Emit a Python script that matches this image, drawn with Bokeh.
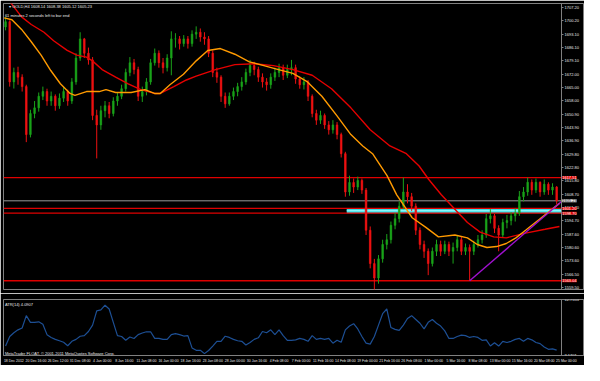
from bokeh.plotting import figure
from bokeh.layouts import column
from bokeh.models import (ColumnDataSource, FixedTicker, Label, Range1d,
                          NumeralTickFormatter)
from bokeh.embed import file_html
from bokeh.resources import INLINE

# ---------------- data (GOLD H4, each candle = 3 H4 bars) ----------------
x_labels = ["18 Dec 2012", "20 Dec 16:00", "26 Dec 12:00", "31 Dec 08:00",
            "4 Jan 00:00", "8 Jan 16:00", "11 Jan 08:00", "16 Jan 00:00",
            "18 Jan 16:00", "23 Jan 08:00", "28 Jan 00:00", "30 Jan 16:00",
            "4 Feb 08:00", "7 Feb 00:00", "11 Feb 16:00", "14 Feb 08:00",
            "19 Feb 00:00", "21 Feb 16:00", "26 Feb 08:00", "1 Mar 00:00",
            "5 Mar 16:00", "8 Mar 08:00", "13 Mar 00:00", "15 Mar 16:00",
            "20 Mar 08:00", "25 Mar 00:00"]
bars_per_label = 16
bars_per_candle = 3
last_bar = 403.5

first_open = 1697.0
closes = [1699.8, 1668.0, 1673.0, 1670.5, 1665.5, 1640.2, 1651.3, 1654.3, 1660.4, 1662.9,
          1657.9, 1660.4, 1655.4, 1659.4, 1662.9, 1657.9, 1668.0, 1680.6, 1690.7, 1683.1,
          1679.6, 1650.3, 1645.3, 1652.8, 1655.4, 1651.3, 1657.9, 1660.4, 1664.4, 1673.0,
          1678.1, 1674.5, 1660.4, 1662.9, 1668.0, 1678.1, 1683.1, 1678.1, 1675.5, 1680.6,
          1690.7, 1690.7, 1688.2, 1690.7, 1688.2, 1693.2, 1694.2, 1691.7, 1690.7, 1683.1,
          1673.0, 1670.5, 1660.4, 1656.4, 1660.4, 1662.9, 1665.5, 1668.0, 1673.0, 1676.6,
          1674.5, 1670.5, 1668.0, 1666.5, 1670.5, 1673.0, 1675.5, 1671.5, 1674.5, 1675.5,
          1669.5, 1666.5, 1668.0, 1660.4, 1651.3, 1647.8, 1650.3, 1645.3, 1642.7, 1645.3,
          1640.2, 1630.1, 1609.9, 1614.9, 1612.5, 1616.0, 1610.9, 1589.7, 1572.1, 1564.5,
          1574.6, 1582.2, 1584.7, 1592.3, 1595.8, 1602.4, 1609.9, 1607.4, 1602.4, 1589.7,
          1582.2, 1578.6, 1572.1, 1578.6, 1582.2, 1578.6, 1582.2, 1578.6, 1580.6, 1584.7,
          1578.6, 1580.6, 1578.6, 1582.2, 1584.7, 1587.2, 1595.8, 1597.3, 1590.7, 1587.2,
          1593.8, 1594.8, 1597.3, 1598.8, 1607.4, 1609.9, 1615.0, 1610.9, 1615.0, 1609.9,
          1614.0, 1610.9, 1612.5, 1605.23]
highs = [1702.3, 1700.5, 1675.5, 1676.0, 1672.0, 1666.5, 1653.3, 1657.9, 1662.4, 1665.5,
         1664.4, 1662.9, 1661.4, 1661.9, 1665.5, 1663.9, 1670.0, 1683.1, 1694.2, 1691.2,
         1686.1, 1681.1, 1653.3, 1655.4, 1657.9, 1657.4, 1659.9, 1662.4, 1666.5, 1675.0,
         1681.1, 1680.1, 1676.0, 1665.5, 1670.0, 1680.1, 1685.6, 1684.6, 1680.6, 1682.6,
         1694.7, 1693.7, 1692.2, 1692.7, 1692.2, 1695.2, 1697.3, 1696.2, 1694.2, 1692.2,
         1684.6, 1675.5, 1671.5, 1662.4, 1662.4, 1665.0, 1667.5, 1670.5, 1675.0, 1679.6,
         1678.6, 1676.0, 1672.5, 1670.0, 1672.5, 1675.5, 1677.6, 1677.1, 1677.1, 1679.6,
         1677.1, 1671.0, 1670.5, 1669.0, 1661.4, 1653.3, 1652.8, 1651.3, 1647.3, 1647.8,
         1646.8, 1641.2, 1631.1, 1618.5, 1617.0, 1618.0, 1617.0, 1612.0, 1591.7, 1574.6,
         1576.6, 1584.7, 1587.7, 1594.3, 1598.8, 1604.9, 1617.5, 1614.0, 1609.4, 1603.9,
         1591.2, 1584.2, 1580.1, 1580.6, 1584.7, 1584.2, 1584.2, 1583.7, 1583.2, 1587.2,
         1586.2, 1582.7, 1582.2, 1584.2, 1587.2, 1589.7, 1598.3, 1600.8, 1598.3, 1592.3,
         1595.8, 1597.8, 1599.3, 1601.3, 1610.4, 1612.5, 1617.5, 1616.5, 1617.0, 1615.5,
         1616.5, 1615.0, 1614.5, 1613.0]
lows = [1695.2, 1665.5, 1664.5, 1666.5, 1662.9, 1636.2, 1638.7, 1648.8, 1652.3, 1658.4,
        1655.4, 1655.4, 1652.8, 1653.8, 1657.4, 1655.4, 1656.4, 1666.5, 1679.1, 1680.6,
        1677.1, 1647.8, 1627.6, 1642.7, 1649.3, 1648.8, 1649.8, 1655.4, 1658.9, 1662.9,
        1671.0, 1672.0, 1657.9, 1657.4, 1660.9, 1666.5, 1676.6, 1675.5, 1672.5, 1673.5,
        1671.5, 1686.1, 1685.1, 1686.6, 1685.6, 1686.6, 1690.7, 1689.2, 1687.6, 1681.1,
        1670.5, 1667.5, 1657.4, 1654.3, 1655.4, 1658.4, 1660.4, 1663.4, 1666.5, 1671.0,
        1671.5, 1668.0, 1665.0, 1663.4, 1664.4, 1668.5, 1670.5, 1669.0, 1670.0, 1671.5,
        1667.0, 1664.4, 1664.0, 1657.9, 1649.3, 1645.3, 1645.8, 1643.2, 1640.2, 1640.7,
        1637.7, 1628.1, 1607.4, 1607.9, 1609.4, 1610.9, 1608.9, 1587.2, 1569.6, 1556.4,
        1561.5, 1572.6, 1579.6, 1582.7, 1590.2, 1593.8, 1600.8, 1603.9, 1599.8, 1587.2,
        1579.6, 1575.1, 1566.0, 1570.6, 1576.1, 1576.1, 1577.1, 1576.1, 1572.1, 1578.6,
        1576.6, 1576.6, 1563.0, 1576.6, 1580.6, 1582.7, 1585.7, 1593.3, 1588.2, 1578.6,
        1585.7, 1590.7, 1592.3, 1594.3, 1597.3, 1604.9, 1607.9, 1608.4, 1609.4, 1607.4,
        1608.4, 1608.4, 1608.4, 1603.4]
atr = [4.79, 6.42, 7.07, 7.56, 7.88, 9.99, 8.85, 8.85, 8.94, 8.53,
       6.74, 6.26, 5.93, 5.69, 5.44, 4.84, 5.60, 5.93, 6.47, 6.58,
       7.28, 8.37, 10.81, 10.97, 11.78, 11.13, 8.85, 6.58, 6.42, 5.77,
       6.34, 6.09, 6.74, 7.02, 7.23, 7.23, 6.09, 6.09, 5.93, 5.93,
       6.74, 6.91, 6.74, 6.50, 6.58, 4.47, 4.06, 4.06, 3.49, 4.03,
       4.79, 5.60, 5.60, 6.47, 6.26, 5.93, 5.69, 5.60, 4.96, 5.39,
       5.93, 6.20, 7.28, 7.07, 7.56, 6.74, 7.56, 6.58, 5.77, 5.77,
       5.85, 6.09, 5.93, 5.60, 6.58, 5.93, 6.09, 5.93, 6.09, 5.28,
       5.77, 5.44, 7.56, 8.21, 8.61, 7.72, 6.42, 5.28, 5.12, 6.42,
       8.37, 10.32, 11.13, 7.96, 7.64, 7.47, 8.37, 9.50, 9.99, 9.34,
       8.69, 7.72, 8.85, 9.34, 8.69, 8.21, 7.39, 6.09, 6.09, 6.42,
       6.66, 6.58, 6.26, 6.42, 6.26, 5.77, 5.85, 4.79, 5.36, 4.79,
       5.60, 5.39, 5.60, 5.93, 6.09, 5.60, 6.09, 5.85, 5.39, 5.20,
       4.63, 4.23, 4.31, 4.0907]

ma_fast_bar = [0, 5.6, 12.6, 19.6, 26.7, 33.7, 40.7, 47.7, 51.2, 59.6,
               68.8, 73.7, 80.7, 91.9, 101.8, 108.8, 113, 120, 129.8, 139,
               147.4, 156.5, 167, 177.5, 188, 198.6, 209, 219.6, 230, 240.7,
               251, 259.6, 266.7, 277.2, 284.2, 295.4, 305.3, 314.4, 326.3, 335.4,
               342.5, 349.5, 356.5, 363.5, 370.5, 377.5, 388, 395, 402]
ma_fast = [1701.8, 1700.8, 1695.7, 1689.2, 1682.1, 1674.0, 1667.0, 1661.9, 1660.9, 1662.9,
           1662.9, 1663.9, 1662.4, 1662.4, 1663.9, 1661.9, 1661.9, 1666.5, 1672.0, 1679.1,
           1684.6, 1685.6, 1682.6, 1678.6, 1676.6, 1674.5, 1672.5, 1668.0, 1660.4, 1650.3,
           1640.2, 1634.2, 1630.1, 1618.5, 1608.4, 1596.3, 1591.2, 1586.2, 1587.2, 1585.7,
           1582.2, 1580.6, 1581.1, 1582.7, 1585.7, 1589.7, 1595.8, 1599.8, 1603.9]
ma_slow_bar = [3.5, 12.6, 19.6, 28.8, 35.8, 45.6, 52.6, 59.6, 63.9, 70.9,
               80.7, 89.8, 98.9, 108.8, 113, 122.8, 131.9, 139, 153, 167,
               181, 195, 209, 223, 237, 251, 265, 279.3, 291.2, 300.4,
               307.4, 316.5, 326.3, 335.4, 344.6, 354.4, 363.5, 377.5, 391.6, 402]
ma_slow = [1710.9, 1702.3, 1698.3, 1694.2, 1689.7, 1684.6, 1682.1, 1681.1, 1679.1, 1674.5,
           1670.5, 1667.0, 1663.9, 1661.9, 1661.9, 1665.5, 1669.0, 1671.0, 1674.5, 1677.1,
           1677.6, 1676.6, 1674.5, 1671.5, 1664.4, 1654.3, 1642.7, 1634.2, 1630.1, 1623.6,
           1616.5, 1608.4, 1600.8, 1593.8, 1588.7, 1586.2, 1585.7, 1588.2, 1590.2, 1591.7]

trend_bar = [337, 403.5]
trend_price = [1563.0, 1604.9]

resistance = 1617.51
zone_top = 1601.20
zone_bottom = 1598.70
band_start_bar = 248
support = 1563.04
bid = 1605.23

price_ticks = [1707.20, 1700.20, 1693.10, 1686.10, 1679.10, 1672.00, 1665.00, 1658.00,
               1650.90, 1643.90, 1636.90, 1629.80, 1622.80, 1615.80, 1608.70, 1601.70,
               1594.70, 1587.60, 1580.60, 1573.60, 1566.50, 1559.50]
atr_ticks = [12.7553, 3.1701]

title_text = "\u25be GOLD,H4  1608.14 1608.38 1605.12 1605.23"
timer_text = "61 minutes 2 seconds left to bar end"
atr_text = "ATR(14) 4.0907"
copyright_text = "MetaTrader FLOAT, \u00a9 2001-2011 MetaQuotes Software Corp."

# ---------------- build ----------------
FONT = "Liberation Sans"
FS = "4px"
n = len(closes)
cx = [bars_per_candle * j + 1 for j in range(n)]
opens = [first_open] + closes[:-1]
up = dict(x=[], top=[], bottom=[], hi=[], lo=[])
dn = dict(x=[], top=[], bottom=[], hi=[], lo=[])
for x, o, c, h, l in zip(cx, opens, closes, highs, lows):
    d = up if c >= o else dn
    d["x"].append(x); d["top"].append(max(o, c)); d["bottom"].append(min(o, c))
    d["hi"].append(h); d["lo"].append(l)

W = 584
FRAME_LEFT = 3
CHART_W = 558                       # pixels used by the bars; the rest holds the price scale
x0 = -0.5
px_per_bar = CHART_W / (last_bar - x0)
xr = Range1d(x0, x0 + (W - FRAME_LEFT) / px_per_bar)
common = dict(width=W, output_backend="svg", toolbar_location=None,
              background_fill_color="black", border_fill_color="black",
              outline_line_color="#808080", min_border_left=FRAME_LEFT,
              min_border_right=0, y_axis_location="right", x_range=xr)

p = figure(height=293, y_range=Range1d(1558.43, 1709.37), x_axis_location=None,
           min_border_top=3, min_border_bottom=4, **common)
p2 = figure(height=72, y_range=Range1d(3.1701, 12.7553), min_border_top=6,
            min_border_bottom=9, **common)

for f in (p, p2):
    f.grid.visible = False
    for ax in f.axis:
        ax.axis_line_color = "#808080"
        ax.major_tick_line_color = "#808080"
        ax.minor_tick_line_color = None
        ax.major_tick_in = 0
        ax.major_tick_out = 2
        ax.major_label_standoff = 1
        ax.major_label_text_color = "#e8e8e8"
        ax.major_label_text_font = FONT
        ax.major_label_text_font_size = FS
    f.yaxis.fixed_location = last_bar

p.yaxis.ticker = FixedTicker(ticks=price_ticks)
p.yaxis.formatter = NumeralTickFormatter(format="0.00")
p2.yaxis.ticker = FixedTicker(ticks=atr_ticks)
p2.yaxis.formatter = NumeralTickFormatter(format="0.0000")

label_shift = 7
xt = [bars_per_label * k + label_shift for k in range(len(x_labels))]
p2.xaxis.ticker = FixedTicker(ticks=xt)
p2.xaxis.major_label_overrides = {t: s for t, s in zip(xt, x_labels)}
p2.xaxis.major_tick_line_color = None
p2.xaxis.major_label_text_font_size = "3.5px"

# horizontal levels
p.quad(left=band_start_bar, right=last_bar, bottom=zone_bottom, top=zone_top,
       fill_color="#33e0e6", line_color=None)
p.quad(left=band_start_bar, right=last_bar, bottom=zone_bottom + 1.0, top=zone_top - 1.0,
       fill_color="#a8fbff", line_color=None)
for lvl, lw in ((resistance, 1.2), (zone_top, 1.2), (zone_bottom, 1.2), (support, 1.4)):
    p.line([x0, last_bar], [lvl, lvl], line_color="#e00000", line_width=lw)
p.line([x0, last_bar], [bid, bid], line_color="#9a9a9a", line_width=1)

# candles
for d, col in ((up, "#1aa31a"), (dn, "#ee1111")):
    src = ColumnDataSource(d)
    p.segment(x0="x", y0="hi", x1="x", y1="lo", source=src, line_color=col, line_width=1)
    p.vbar(x="x", width=1.2, top="top", bottom="bottom", source=src,
           fill_color=col, line_color=col, line_width=0.6)

# moving averages & trendline
p.line(ma_slow_bar, ma_slow, line_color="#e60000", line_width=1.4)
p.line(ma_fast_bar, ma_fast, line_color="#ff9a00", line_width=1.4)
p.line(trend_bar, trend_price, line_color="#a010d0", line_width=1.4)

# ATR
p2.line(cx, atr, line_color="#1d4f94", line_width=1.2)

# texts
def mk(x, y, s, color="#e8e8e8", **kw):
    return Label(x=x, y=y, text=s, text_font=FONT, text_font_size=FS,
                 text_color=color, text_baseline="middle", **kw)

p.add_layout(mk(3.5, 1707.9, title_text))
p.add_layout(mk(0.5, 1702.8, timer_text))
p2.add_layout(mk(0.5, 11.94, atr_text))
p2.add_layout(mk(0.5, 3.55, copyright_text))

# price tags on the price scale
box_x = last_bar + 0.5
for lvl, s in ((resistance, "1617.51"), (zone_top, "1601.20"), (zone_bottom, "1598.70"),
               (support, "1563.04")):
    p.add_layout(mk(box_x, lvl, s, color="white", background_fill_color="#e00000"))
p.add_layout(mk(box_x, bid, "1605.23", color="black", background_fill_color="#e8e8e8"))

layout = column(p, p2, spacing=0)
open("out.html", "w").write(file_html(layout, INLINE))
